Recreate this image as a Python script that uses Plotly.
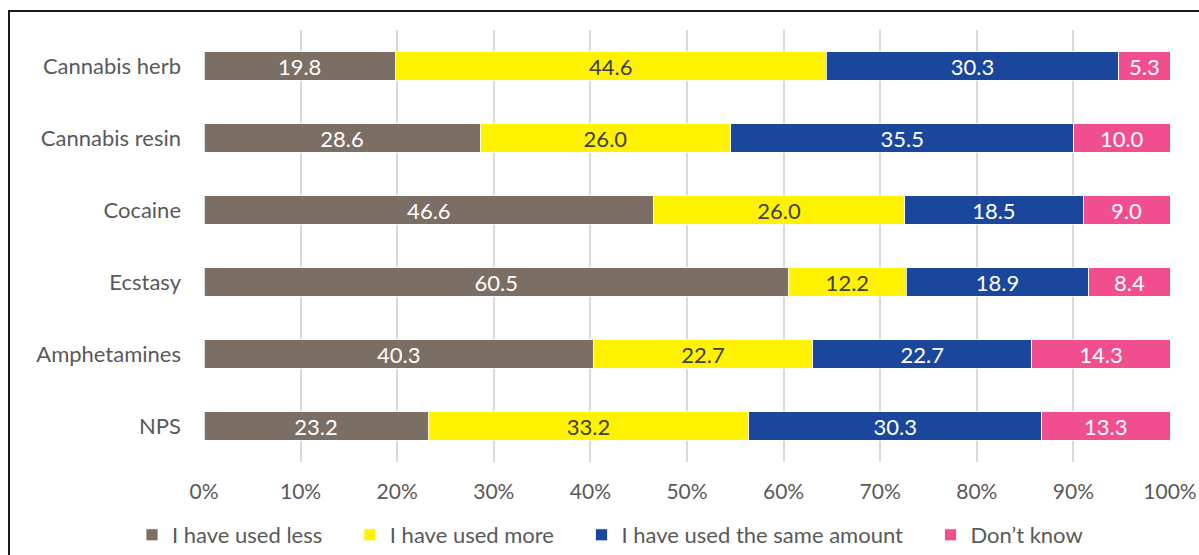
import plotly.graph_objects as go

# Survey responses: change in drug use, share of respondents (%)
substances = ["Cannabis herb", "Cannabis resin", "Cocaine", "Ecstasy", "Amphetamines", "NPS"]
used_less = [19.8, 28.6, 46.6, 60.5, 40.3, 23.2]
used_more = [44.6, 26.0, 26.0, 12.2, 22.7, 33.2]
used_same = [30.3, 35.5, 18.5, 18.9, 22.7, 30.3]
dont_know = [5.3, 10.0, 9.0, 8.4, 14.3, 13.3]
x_ticks = [0, 10, 20, 30, 40, 50, 60, 70, 80, 90, 100]
x_tick_labels = [f"{v}%" for v in x_ticks]

FONT = "Lato, 'Liberation Sans', sans-serif"
GREY = "#595959"
PAD = "\u00a0" * 4  # extra room between legend entries

series = [
    ("I have used less" + PAD, used_less, "#7b6e65", "white"),
    ("I have used more" + PAD, used_more, "#fff200", "#404040"),
    ("I have used the same amount" + PAD, used_same, "#1a479c", "white"),
    ("Don\u2019t know", dont_know, "#f04e8e", "white"),
]

fig = go.Figure()
for name, vals, color, txt_color in series:
    fig.add_trace(go.Bar(
        name=name,
        y=substances,
        x=vals,
        orientation="h",
        marker=dict(color=color, line=dict(color="white", width=0.8)),
        text=vals,
        texttemplate="%{text:.1f}",
        textposition="inside",
        insidetextanchor="middle",
        textfont=dict(family=FONT, size=22, color=txt_color),
        hoverinfo="skip",
    ))

W, H = 1199, 555
L, R, T, B = 204, 29, 30, 93
pw, ph = W - L - R, H - T - B


def px_x(px):
    return (px - L) / pw


def px_y(py):
    return (H - B - py) / ph


fig.update_layout(
    width=W,
    height=H,
    barmode="stack",
    barnorm="percent",
    bargap=0.6,
    margin=dict(l=L, r=R, t=T, b=B, autoexpand=False),
    paper_bgcolor="white",
    plot_bgcolor="white",
    font=dict(family=FONT, size=22, color=GREY),
    uniformtext=dict(minsize=22, mode="show"),
    xaxis=dict(
        range=[0, 100],
        tickvals=x_ticks,
        ticktext=x_tick_labels,
        showgrid=True,
        gridcolor="#d9d9d9",
        gridwidth=1.5,
        zeroline=False,
        showline=False,
        ticks="",
        ticklabelstandoff=15,
        tickfont=dict(family=FONT, size=21, color=GREY),
    ),
    yaxis=dict(
        categoryorder="array",
        categoryarray=substances[::-1],
        showgrid=False,
        zeroline=False,
        showline=False,
        ticks="",
        ticklabelstandoff=22,
        tickfont=dict(family=FONT, size=22, color=GREY),
    ),
    legend=dict(
        orientation="h",
        x=px_x(610),
        xanchor="center",
        y=px_y(535),
        yanchor="middle",
        font=dict(family=FONT, size=22, color=GREY),
        traceorder="normal",
        itemclick=False,
        itemdoubleclick=False,
    ),
    shapes=[dict(
        type="rect",
        xref="paper", yref="paper",
        x0=px_x(9), x1=px_x(1210),
        y0=px_y(570), y1=px_y(11),
        line=dict(color="#1a1a1a", width=2),
        fillcolor="rgba(0,0,0,0)",
        layer="below",
    )],
)

fig.write_html("out.html")
